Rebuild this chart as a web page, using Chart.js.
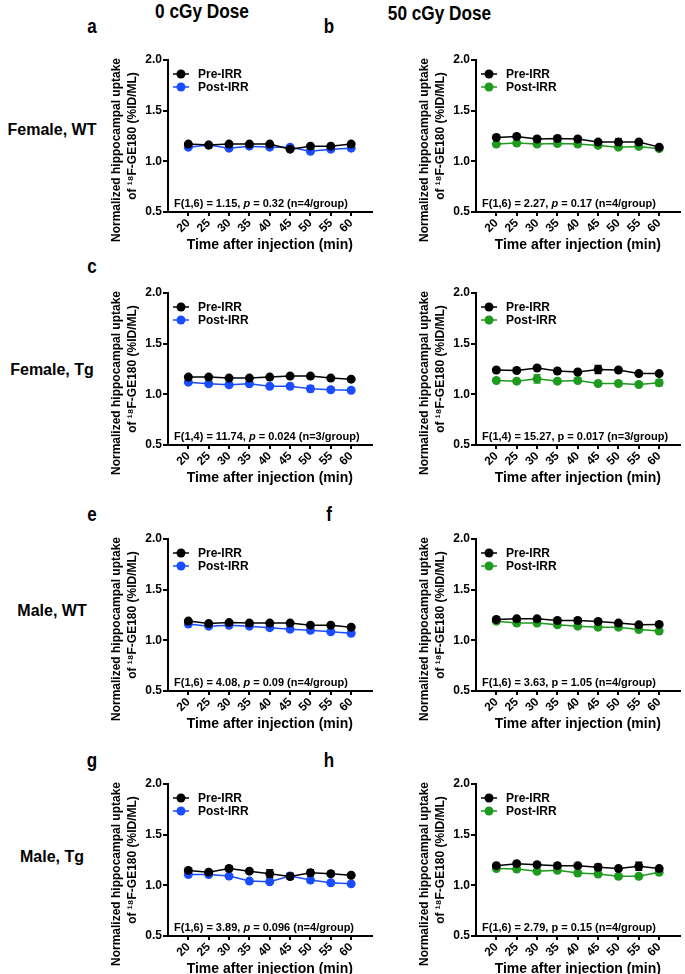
<!DOCTYPE html>
<html><head><meta charset="utf-8">
<script src="https://cdn.jsdelivr.net/npm/chart.js@4.4.1/dist/chart.umd.min.js"></script>
<style>
body{margin:0;width:685px;height:974px;position:relative;background:#fff;overflow:hidden;font-family:"Liberation Sans",Arial,sans-serif;}
canvas{position:absolute;}
.t{position:absolute;font-weight:bold;color:#000;white-space:nowrap;line-height:1;text-align:center;}
.h{font-size:21px;transform:scaleX(0.82);}
.r{font-size:16px;width:104px;left:0;}
.l{font-size:20px;width:20px;transform:scaleX(0.85);}
</style></head><body>
<div class="t h" style="left:142px;top:0px;width:120px;">0 cGy Dose</div>
<div class="t h" style="left:377px;top:2px;width:120px;">50 cGy Dose</div>
<div class="t r" style="top:122px;">Female, WT</div>
<div class="t r" style="top:362px;">Female, Tg</div>
<div class="t r" style="top:603px;">Male, WT</div>
<div class="t r" style="top:849px;">Male, Tg</div>
<div class="t l" style="left:82px;top:16px;">a</div>
<div class="t l" style="left:319px;top:16px;">b</div>
<div class="t l" style="left:82px;top:256px;">c</div>
<div class="t l" style="left:82px;top:504px;">e</div>
<div class="t l" style="left:319px;top:504px;">f</div>
<div class="t l" style="left:82px;top:750px;">g</div>
<div class="t l" style="left:319px;top:750px;">h</div>
<script>
// ---- data ----
const times = [20, 25, 30, 35, 40, 45, 50, 55, 60];
const yTicks = [0.5, 1.0, 1.5, 2.0];
const seriesNames = ['Pre-IRR', 'Post-IRR'];
const xTitle = 'Time after injection (min)';
const yTitle1 = 'Normalized hippocampal uptake';
const yTitle2 = 'of \u00B9\u2078F-GE180 (%ID/ML)';

const aPre  = [1.17, 1.16, 1.17, 1.17, 1.17, 1.12, 1.15, 1.15, 1.17];
const aPost = [1.14, 1.16, 1.13, 1.15, 1.14, 1.14, 1.10, 1.12, 1.13];
const aPreErr  = [0.01, 0.01, 0.01, 0.01, 0.01, 0.01, 0.01, 0.01, 0.01];
const aPostErr = [0.01, 0.01, 0.01, 0.01, 0.01, 0.01, 0.01, 0.01, 0.01];

const bPre  = [1.235, 1.245, 1.22, 1.225, 1.22, 1.19, 1.19, 1.19, 1.14];
const bPost = [1.17, 1.18, 1.17, 1.175, 1.17, 1.157, 1.14, 1.147, 1.125];
const bPreErr  = [0.01, 0.01, 0.01, 0.02, 0.01, 0.01, 0.03, 0.01, 0.01];
const bPostErr = [0.01, 0.01, 0.01, 0.01, 0.01, 0.01, 0.01, 0.01, 0.01];

const cPre  = [1.17, 1.17, 1.16, 1.16, 1.17, 1.18, 1.18, 1.16, 1.15];
const cPost = [1.12, 1.105, 1.095, 1.105, 1.08, 1.08, 1.055, 1.045, 1.04];
const cPreErr  = [0.01, 0.01, 0.01, 0.01, 0.01, 0.01, 0.01, 0.01, 0.01];
const cPostErr = [0.01, 0.01, 0.01, 0.01, 0.01, 0.01, 0.03, 0.01, 0.01];

const dPre  = [1.24, 1.235, 1.26, 1.23, 1.22, 1.245, 1.24, 1.205, 1.205];
const dPost = [1.137, 1.13, 1.153, 1.13, 1.137, 1.107, 1.107, 1.097, 1.114];
const dPreErr  = [0.01, 0.01, 0.01, 0.01, 0.01, 0.04, 0.01, 0.01, 0.01];
const dPostErr = [0.01, 0.01, 0.04, 0.01, 0.01, 0.01, 0.02, 0.01, 0.03];

const ePre  = [1.19, 1.165, 1.175, 1.17, 1.17, 1.17, 1.15, 1.15, 1.13];
const ePost = [1.16, 1.14, 1.148, 1.14, 1.125, 1.11, 1.10, 1.085, 1.07];
const ePreErr  = [0.01, 0.01, 0.01, 0.01, 0.01, 0.01, 0.01, 0.01, 0.01];
const ePostErr = [0.01, 0.01, 0.01, 0.01, 0.01, 0.01, 0.01, 0.01, 0.01];

const fPre  = [1.206, 1.212, 1.212, 1.196, 1.196, 1.186, 1.17, 1.153, 1.157];
const fPost = [1.189, 1.17, 1.17, 1.153, 1.14, 1.13, 1.13, 1.107, 1.091];
const fPreErr  = [0.01, 0.01, 0.01, 0.01, 0.01, 0.01, 0.01, 0.01, 0.01];
const fPostErr = [0.01, 0.01, 0.01, 0.01, 0.01, 0.01, 0.01, 0.01, 0.01];

const gPre  = [1.147, 1.13, 1.166, 1.14, 1.114, 1.087, 1.124, 1.114, 1.10];
const gPost = [1.107, 1.107, 1.091, 1.042, 1.035, 1.091, 1.052, 1.025, 1.015];
const gPreErr  = [0.01, 0.01, 0.02, 0.01, 0.04, 0.01, 0.03, 0.01, 0.01];
const gPostErr = [0.01, 0.01, 0.01, 0.01, 0.01, 0.03, 0.01, 0.01, 0.01];

const hPre  = [1.194, 1.214, 1.204, 1.194, 1.194, 1.178, 1.165, 1.188, 1.165];
const hPost = [1.165, 1.161, 1.139, 1.148, 1.122, 1.112, 1.089, 1.089, 1.129];
const hPreErr  = [0.01, 0.01, 0.01, 0.01, 0.01, 0.03, 0.01, 0.04, 0.01];
const hPostErr = [0.01, 0.01, 0.01, 0.01, 0.01, 0.01, 0.01, 0.01, 0.01];

const statA = ['F(1,6) = 1.15, ', 'p', ' = 0.32 (n=4/group)'];
const statB = ['F(1,6) = 2.27, ', 'p', ' = 0.17 (n=4/group)'];
const statC = ['F(1,4) = 11.74, ', 'p', ' = 0.024 (n=3/group)'];
const statD = ['F(1,4) = 15.27, ', 'p', ' = 0.017 (n=3/group)'];
const statE = ['F(1,6) = 4.08, ', 'p', ' = 0.09 (n=4/group)'];
const statF = ['F(1,6) = 3.63, ', 'p', ' = 1.05 (n=4/group)'];
const statG = ['F(1,6) = 3.89, ', 'p', ' = 0.096 (n=4/group)'];
const statH = ['F(1,6) = 2.79, ', 'p', ' = 0.15 (n=4/group)'];

// ---- styling / layout ----
const BLACK = '#000000', BLUE = '#1a4dff', GREEN = '#1e9a1e';
const FONT = "'Liberation Sans', Arial, sans-serif";
const rowTop = [60, 293, 539, 784];
const colLeft = [168, 476];
const PLOT_W = 205, PLOT_H = 152, Y_AXIS_W = 70, X_AXIS_H = 30, PAD_T = 10, PAD_B = 15;
const CANVAS_W = 278, CANVAS_H = PAD_T + PLOT_H + X_AXIS_H + PAD_B;

const panels = [
  {row:0, col:0, pre:aPre, post:aPost, preErr:aPreErr, postErr:aPostErr, color:BLUE,  stat:statA, italic:true},
  {row:0, col:1, pre:bPre, post:bPost, preErr:bPreErr, postErr:bPostErr, color:GREEN, stat:statB, italic:true},
  {row:1, col:0, pre:cPre, post:cPost, preErr:cPreErr, postErr:cPostErr, color:BLUE,  stat:statC, italic:true},
  {row:1, col:1, pre:dPre, post:dPost, preErr:dPreErr, postErr:dPostErr, color:GREEN, stat:statD, italic:false},
  {row:2, col:0, pre:ePre, post:ePost, preErr:ePreErr, postErr:ePostErr, color:BLUE,  stat:statE, italic:true},
  {row:2, col:1, pre:fPre, post:fPost, preErr:fPreErr, postErr:fPostErr, color:GREEN, stat:statF, italic:false},
  {row:3, col:0, pre:gPre, post:gPost, preErr:gPreErr, postErr:gPostErr, color:BLUE,  stat:statG, italic:true},
  {row:3, col:1, pre:hPre, post:hPost, preErr:hPreErr, postErr:hPostErr, color:GREEN, stat:statH, italic:false},
];

Chart.defaults.font.family = FONT;
Chart.defaults.font.weight = 'bold';
Chart.defaults.color = '#000';

const decor = {
  id: 'decor',
  beforeDatasetsDraw(chart) {
    const ctx = chart.ctx, xs = chart.scales.x, ys = chart.scales.y;
    chart.data.datasets.forEach(ds => {
      ctx.save();
      ctx.strokeStyle = ds.borderColor; ctx.lineWidth = 1.5;
      ds.data.forEach((p, i) => {
        const e = ds.err[i];
        const x = xs.getPixelForValue(p.x);
        const y1 = ys.getPixelForValue(p.y + e), y2 = ys.getPixelForValue(p.y - e);
        ctx.beginPath(); ctx.moveTo(x, y1); ctx.lineTo(x, y2);
        ctx.moveTo(x - 3.5, y1); ctx.lineTo(x + 3.5, y1);
        ctx.moveTo(x - 3.5, y2); ctx.lineTo(x + 3.5, y2);
        ctx.stroke();
      });
      ctx.restore();
    });
  },
  afterDraw(chart, args, opts) {
    const ctx = chart.ctx, a = chart.chartArea;
    ctx.save();
    ctx.fillStyle = '#000';
    // legend
    chart.data.datasets.forEach((ds, i) => {
      const y = a.top + 14 + i * 13;
      ctx.strokeStyle = ds.borderColor; ctx.lineWidth = 1.5;
      ctx.beginPath(); ctx.moveTo(a.left + 5, y); ctx.lineTo(a.left + 21, y); ctx.stroke();
      ctx.fillStyle = ds.backgroundColor;
      ctx.beginPath(); ctx.arc(a.left + 13, y, 4.5, 0, Math.PI * 2); ctx.fill();
      ctx.fillStyle = '#000';
      ctx.font = 'bold 12px ' + FONT; ctx.textBaseline = 'middle'; ctx.textAlign = 'left';
      ctx.fillText(ds.label, a.left + 30, y + 0.5);
    });
    // stats text
    let x = a.left + 6; const ys = a.bottom - 8;
    opts.stat.forEach((s, i) => {
      ctx.font = (i === 1 && opts.italic ? 'italic ' : '') + 'bold 11px ' + FONT;
      ctx.fillText(s, x, ys);
      x += ctx.measureText(s).width;
    });
    // x title
    ctx.font = 'bold 14px ' + FONT; ctx.textAlign = 'center';
    ctx.fillText(xTitle, (a.left + a.right) / 2, a.bottom + 33);
    // y title
    ctx.font = 'bold 12px ' + FONT;
    ctx.save(); ctx.translate(a.left - 51, a.top + 90); ctx.rotate(-Math.PI / 2);
    ctx.fillText(yTitle1, 0, 0); ctx.restore();
    ctx.save(); ctx.translate(a.left - 35, a.top + 76); ctx.rotate(-Math.PI / 2);
    ctx.fillText(yTitle2, 0, 0); ctx.restore();
    ctx.restore();
  }
};

panels.forEach(p => {
  const L = colLeft[p.col], T = rowTop[p.row];
  const cv = document.createElement('canvas');
  cv.width = CANVAS_W; cv.height = CANVAS_H;
  cv.style.left = (L - Y_AXIS_W) + 'px'; cv.style.top = (T - PAD_T) + 'px';
  cv.style.width = CANVAS_W + 'px'; cv.style.height = CANVAS_H + 'px';
  document.body.appendChild(cv);
  const mk = (label, vals, errs, color) => ({
    label, data: times.map((t, i) => ({x: t, y: vals[i]})), err: errs,
    borderColor: color, backgroundColor: color, pointBackgroundColor: color,
    pointBorderColor: color, pointRadius: 4.5, pointBorderWidth: 0, borderWidth: 1.5,
    tension: 0, clip: false
  });
  new Chart(cv, {
    type: 'line',
    data: { datasets: [
      mk(seriesNames[0], p.pre, p.preErr, BLACK),
      mk(seriesNames[1], p.post, p.postErr, p.color)
    ] },
    options: {
      responsive: false, animation: false, devicePixelRatio: 1,
      layout: { padding: { left: 0, top: PAD_T, right: CANVAS_W - Y_AXIS_W - PLOT_W, bottom: PAD_B } },
      plugins: { legend: { display: false }, tooltip: { enabled: false }, title: { display: false },
        decor: { stat: p.stat, italic: p.italic } },
      scales: {
        x: {
          type: 'linear', min: 15, max: 65,
          afterBuildTicks: s => { s.ticks = times.map(v => ({ value: v })); },
          afterFit: s => { s.height = X_AXIS_H; },
          ticks: { autoSkip: false, minRotation: 45, maxRotation: 45, padding: 0,
                   font: { size: 12, weight: 'bold' }, color: '#000', callback: v => String(v) },
          grid: { display: true, drawOnChartArea: false, drawTicks: true, tickLength: 4, color: '#000', lineWidth: 2 },
          border: { display: true, color: '#000', width: 2 }
        },
        y: {
          min: 0.5, max: 2.0,
          afterBuildTicks: s => { s.ticks = yTicks.map(v => ({ value: v })); },
          afterFit: s => { s.width = Y_AXIS_W; },
          ticks: { padding: 1, font: { size: 12, weight: 'bold' }, color: '#000', callback: v => v.toFixed(1) },
          grid: { display: true, drawOnChartArea: false, drawTicks: true, tickLength: 5, color: '#000', lineWidth: 2 },
          border: { display: true, color: '#000', width: 2 }
        }
      }
    },
    plugins: [decor]
  });
});
</script>
</body></html>
